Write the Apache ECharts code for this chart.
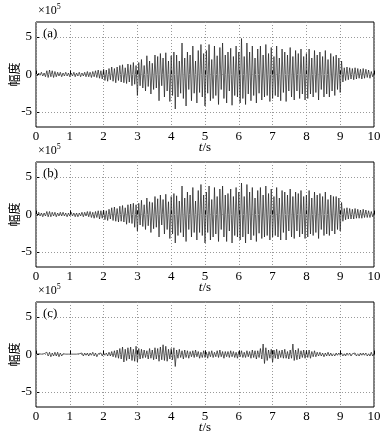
<!DOCTYPE html>
<html><head><meta charset="utf-8">
<script src="https://cdn.jsdelivr.net/npm/echarts@6/dist/echarts.min.js"></script>
<style>html,body{margin:0;padding:0;background:#fff}#c{width:392px;height:438px}</style>
</head><body><div id="c"></div>
<script>
// sample step (s) of the traced waveforms, amplitudes in units of 1e5
const step = 0.04;
const xTicks = [0,1,2,3,4,5,6,7,8,9,10];
const yTicks = [-5,0,5];
const panelLabels = ['(a)','(b)','(c)'];

const seriesA = [
0.1,-0.2,0.2,-0.1,0.3,-0.2,0.2,-0.3,0.5,-0.4,0.6,-0.3,0.5,-0.4,0.4,-0.3,0.3,-0.2,0.3,-0.3,0.2,-0.2,0.3,-0.2,0.2,
-0.3,0.2,-0.2,0.3,-0.3,0.2,-0.2,0.3,-0.3,0.2,-0.2,0.3,-0.3,0.4,-0.3,0.3,-0.4,0.4,-0.3,0.5,-0.4,0.6,-0.5,0.5,-0.6,
0.7,-0.8,0.6,-0.9,0.8,-0.7,1.0,-0.9,0.8,-1.1,1.0,-0.8,1.2,-1.0,1.3,-1.1,0.9,-1.2,1.4,-1.0,1.3,-1.5,1.6,-1.3,1.2,
-2.8,1.6,-1.5,2.0,-1.8,1.2,-2.2,2.5,-1.6,1.8,-2.6,1.5,-2.0,2.6,-1.8,2.4,-3.5,2.8,-1.5,2.2,-3.0,2.9,-2.2,1.8,-3.6,
2.5,-2.8,3.0,-4.6,2.6,-3.0,1.8,-2.5,4.2,-3.2,2.2,-4.2,3.0,-2.0,2.6,-3.5,3.8,-2.5,1.8,-3.8,3.2,-2.4,4.0,-3.0,2.8,
-4.2,3.2,-2.5,4.0,-3.5,2.0,-3.2,3.8,-2.8,2.5,-4.0,3.6,-2.0,4.2,-3.2,2.6,-3.8,3.0,-2.2,3.5,-4.1,2.4,-2.8,3.8,-3.0,
3.0,-3.8,4.8,-3.2,2.4,-4.0,4.2,-2.6,3.0,-3.5,3.8,-2.8,2.2,-3.8,3.4,-2.5,3.8,-3.4,2.6,-3.0,4.0,-2.8,2.8,-3.6,3.6,
-3.2,2.4,-2.8,3.8,-3.0,2.2,-3.5,3.4,-2.4,3.0,-3.6,2.6,-2.2,3.6,-3.0,2.4,-3.4,3.2,-2.2,2.8,-3.2,3.4,-2.6,2.4,-3.4,
2.8,-3.2,3.4,-2.6,2.2,-3.0,3.2,-2.4,2.6,-3.4,3.0,-2.0,2.4,-3.0,3.2,-2.6,2.0,-3.0,2.8,-2.2,2.4,-2.8,2.6,-2.0,2.2,
-2.4,1.8,-1.0,0.9,-0.8,1.0,-0.7,0.9,-0.6,0.8,-0.7,0.9,-0.6,0.8,-0.5,0.7,-0.6,0.8,-0.5,0.7,-0.4,0.6,-0.5,0.4,-0.3,
0.2];

const seriesB = [
0.1,-0.2,0.3,-0.2,0.2,-0.3,0.2,-0.2,0.4,-0.3,0.4,-0.3,0.3,-0.2,0.3,-0.3,0.2,-0.2,0.3,-0.2,0.3,-0.2,0.2,-0.3,0.2,
-0.2,0.3,-0.2,0.2,-0.3,0.2,-0.3,0.2,-0.2,0.3,-0.3,0.3,-0.2,0.4,-0.3,0.4,-0.4,0.3,-0.5,0.4,-0.4,0.5,-0.6,0.5,-0.5,
0.6,-0.7,0.5,-0.8,0.7,-0.6,0.9,-0.8,1.0,-0.9,0.8,-1.0,1.1,-0.9,1.2,-1.0,0.9,-1.3,1.3,-1.1,1.4,-1.2,1.5,-1.7,1.3,
-2.2,1.5,-1.4,1.9,-1.6,1.3,-2.0,2.2,-1.5,1.7,-2.4,1.6,-1.9,2.4,-1.7,2.1,-3.0,2.6,-1.4,2.0,-2.6,2.7,-2.0,1.7,-3.2,
2.4,-2.6,2.8,-3.8,2.5,-2.8,1.8,-2.4,3.8,-3.0,2.2,-3.6,3.0,-2.0,2.6,-3.0,3.6,-2.4,1.8,-3.4,3.2,-2.4,4.0,-2.8,2.6,
-3.8,3.0,-2.4,3.8,-3.4,2.0,-3.0,3.6,-2.6,2.4,-3.6,3.4,-2.0,3.8,-3.0,2.6,-3.6,2.8,-2.2,3.4,-3.8,2.4,-2.8,3.6,-3.0,
3.0,-3.4,4.2,-3.0,2.4,-3.8,4.0,-2.6,3.0,-3.4,3.6,-2.8,2.2,-3.6,3.2,-2.5,3.6,-3.2,2.6,-3.0,3.8,-2.8,2.8,-3.4,3.4,
-3.0,2.4,-2.8,3.6,-3.0,2.2,-3.4,3.2,-2.4,3.0,-3.4,2.6,-2.2,3.4,-3.0,2.4,-3.2,3.0,-2.2,2.8,-3.0,3.2,-2.6,2.4,-3.2,
2.6,-3.0,3.2,-2.6,2.2,-2.8,3.0,-2.4,2.6,-3.2,2.8,-2.0,2.4,-2.8,3.0,-2.6,2.0,-2.8,2.6,-2.2,2.4,-2.6,2.4,-2.0,2.2,
-2.2,1.6,-0.9,0.8,-0.7,0.9,-0.6,0.8,-0.6,0.7,-0.6,0.8,-0.5,0.7,-0.5,0.6,-0.5,0.7,-0.4,0.6,-0.4,0.5,-0.4,0.4,-0.3,
0.2];

const seriesC = [
0.05,-0.05,0.1,-0.1,0.05,-0.1,0.1,-0.1,0.3,-0.2,0.3,-0.3,0.2,-0.2,0.3,-0.2,0.3,-0.3,0.2,-0.2,0.1,-0.1,0.05,-0.05,0.05,
-0.05,0.05,-0.05,0.05,-0.05,0.05,-0.05,0.1,-0.1,0.2,-0.2,0.2,-0.1,0.2,-0.2,0.2,-0.1,0.3,-0.2,0.2,-0.3,0.1,-0.1,0.2,-0.2,
0.2,-0.1,0.2,-0.2,0.3,-0.2,0.4,-0.3,0.5,-0.4,0.6,-0.5,0.8,-0.6,1.0,-1.0,0.7,-0.8,0.9,-0.6,1.0,-0.8,0.7,-0.9,1.1,
-1.0,0.8,-0.6,0.7,-0.5,0.6,-0.4,0.5,-0.6,0.8,-0.5,0.6,-0.7,0.9,-0.6,0.8,-0.9,1.0,-0.7,1.3,-0.8,1.1,-0.9,0.7,-0.6,
0.8,-0.7,0.9,-1.6,0.6,-0.5,0.7,-0.4,0.5,-0.6,0.6,-0.4,0.5,-0.5,0.4,-0.3,0.5,-0.4,0.6,-0.3,0.4,-0.5,0.3,-0.4,0.5,
-0.4,0.3,-0.5,0.4,-0.3,0.5,-0.4,0.3,-0.3,0.5,-0.4,0.6,-0.3,0.4,-0.5,0.4,-0.3,0.4,-0.4,0.5,-0.3,0.4,-0.4,0.3,-0.5,
0.4,-0.3,0.5,-0.4,0.3,-0.4,0.5,-0.3,0.4,-0.5,0.6,-0.4,0.5,-0.6,0.5,-0.4,0.8,-0.6,1.4,-1.2,0.9,-0.8,0.6,-0.5,0.7,
-1.0,0.6,-0.5,0.7,-0.6,0.5,-0.4,0.6,-0.5,0.7,-0.5,0.4,-0.6,0.6,-0.5,1.4,-0.8,0.6,-0.7,0.8,-0.6,0.5,-0.4,0.6,-0.5,
0.5,-0.4,0.6,-0.5,0.4,-0.3,0.5,-0.3,0.3,-0.2,0.3,-0.2,0.2,-0.3,0.2,-0.2,0.3,-0.2,0.2,-0.2,0.1,-0.2,0.2,-0.1,0.2,
-0.1,0.2,-0.2,0.1,-0.2,0.2,-0.1,0.2,-0.2,0.1,-0.1,0.2,-0.2,0.1,-0.2,0.2,-0.1,0.2,-0.1,0.2,-0.2,0.1,-0.2,0.3,-0.2,
0.1];

const allSeries = [seriesA, seriesB, seriesC];
const tops = [22, 162, 302];
const gridH = 105;
const serif = '"Liberation Serif","DejaVu Serif",serif';

const chart = echarts.init(document.getElementById('c'), null, {renderer:'canvas'});
const grids = [], xAxes = [], yAxes = [], series = [], graphics = [];
allSeries.forEach((vals, i) => {
  grids.push({left:36, right:18, top:tops[i], height:gridH, show:true, borderColor:'#000', borderWidth:1,
    containLabel:false, outerBoundsMode:'none'});
  xAxes.push({
    type:'value', gridIndex:i, min:0, max:10, interval:1,
    name:'{i|t}/s', nameLocation:'middle', nameGap:14, nameMoveOverlap:false,
    nameTextStyle:{fontFamily:serif, fontSize:13, color:'#000', rich:{i:{fontFamily:serif, fontStyle:'italic', fontSize:13, color:'#000'}}},
    axisLine:{show:false}, axisTick:{show:true, inside:true, length:4, lineStyle:{color:'#000'}},
    axisLabel:{fontFamily:serif, fontSize:13, color:'#000', margin:3},
    splitLine:{show:true, lineStyle:{color:'#999', type:[1,2], width:1}}
  });
  yAxes.push({
    type:'value', gridIndex:i, min:-7, max:7,
    name:'幅度', nameLocation:'middle', nameGap:16, nameRotate:90, nameMoveOverlap:false,
    nameTextStyle:{fontFamily:'"Noto Sans CJK SC"', fontSize:12, color:'#000'},
    axisLine:{show:false},
    axisTick:{show:true, inside:true, length:4, customValues:yTicks, lineStyle:{color:'#000'}},
    axisLabel:{fontFamily:serif, fontSize:13, color:'#000', margin:4, customValues:yTicks},
    splitLine:{show:false}
  });
  series.push({
    type:'line', xAxisIndex:i, yAxisIndex:i, showSymbol:false, sampling:null, animation:false,
    lineStyle:{color:'#1a1a1a', width:0.7},
    data: vals.map((v, k) => [k*step, v]),
    markLine:{silent:true, symbol:'none', label:{show:false}, animation:false,
      lineStyle:{color:'#999', type:[1,2], width:1},
      data: yTicks.map(y => ({yAxis:y}))}
  });
  graphics.push({type:'text', left:38, top:tops[i]-19, style:{text:'×10{s|5}', font:'12px '+serif, fill:'#000',
    rich:{s:{fontSize:8, verticalAlign:'top', padding:[0,0,7,0], fontFamily:serif}}}});
  graphics.push({type:'text', left:43, top:tops[i]+5, style:{text:panelLabels[i], font:'13px '+serif, fill:'#000'}});
});

chart.setOption({
  animation:false, backgroundColor:'#fff',
  grid:grids, xAxis:xAxes, yAxis:yAxes, series:series, graphic:graphics
});
</script></body></html>
